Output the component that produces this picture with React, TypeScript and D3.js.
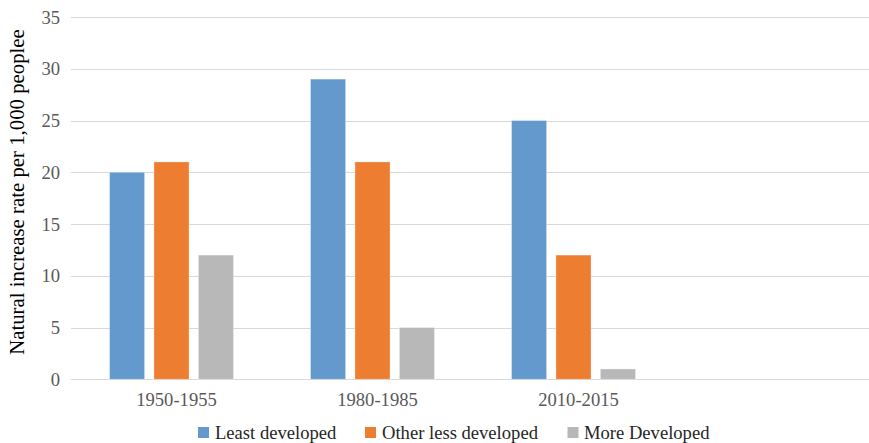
import React from "react";
import * as d3 from "d3";

// Natural increase rate per 1,000 people, by period and development group
const periods = ["1950-1955", "1980-1985", "2010-2015", ""];
const seriesNames = ["Least developed", "Other less developed", "More Developed"];
const leastDeveloped = [20, 29, 25, null];
const otherLessDeveloped = [21, 21, 12, null];
const moreDeveloped = [12, 5, 1, null];
const yTicks = [0, 5, 10, 15, 20, 25, 30, 35];
const colors = ["#6399cd", "#ed7d31", "#b8b8b8"];

const W = 869;
const H = 443;
const plot = { left: 71, right: 875, top: 17, bottom: 379.3 };
const FONT = "'Liberation Serif', 'Times New Roman', serif";

export default function App() {
  const series = [leastDeveloped, otherLessDeveloped, moreDeveloped];

  const x = d3.scaleBand<string>().domain(periods).range([plot.left, plot.right]);
  const inner = d3
    .scaleBand<number>()
    .domain([0, 1, 2])
    .range([38.5, x.bandwidth() - 38.5])
    .paddingInner(0.21);
  const y = d3.scaleLinear().domain([0, 35]).range([plot.bottom, plot.top]);

  const legendItems = [
    { x: 198, textX: 215 },
    { x: 365, textX: 382 },
    { x: 567.5, textX: 584 },
  ];

  return (
    <svg
      width={W}
      height={H}
      style={{ position: "absolute", left: 0, top: 0, background: "#fff" }}
      fontFamily={FONT}
    >
      {/* horizontal gridlines */}
      {yTicks.map((t) => (
        <line
          key={t}
          x1={plot.left}
          x2={W}
          y1={Math.round(y(t)) + 0.5}
          y2={Math.round(y(t)) + 0.5}
          stroke="#d9d9d9"
          strokeWidth={1}
        />
      ))}

      {/* y tick labels */}
      {yTicks.map((t) => (
        <text
          key={t}
          x={60}
          y={y(t)}
          dy="0.35em"
          textAnchor="end"
          fontSize={18.6}
          fill="#595959"
        >
          {t}
        </text>
      ))}

      {/* bars */}
      {series.map((vals, si) =>
        periods.map((p, ci) => {
          const v = vals[ci];
          if (v == null) return null;
          const bx = (x(p) as number) + (inner(si) as number);
          return (
            <rect
              key={`${si}-${ci}`}
              x={bx}
              y={y(v)}
              width={inner.bandwidth()}
              height={y(0) - y(v)}
              fill={colors[si]}
              stroke="rgba(255,255,255,0.35)"
              strokeWidth={1}
            />
          );
        })
      )}

      {/* x category labels */}
      {periods.map((p) => (
        <text
          key={p}
          x={(x(p) as number) + x.bandwidth() / 2 + 5}
          y={406}
          textAnchor="middle"
          fontSize={18.6}
          fill="#595959"
        >
          {p}
        </text>
      ))}

      {/* y axis title */}
      <text
        transform={`translate(24, 192) rotate(-90)`}
        textAnchor="middle"
        fontSize={20.8}
        fill="#000"
      >
        Natural increase rate per 1,000 peoplee
      </text>

      {/* legend */}
      {seriesNames.map((name, i) => (
        <g key={name}>
          <rect x={legendItems[i].x} y={427} width={11} height={11} fill={colors[i]} />
          <text x={legendItems[i].textX} y={438.5} fontSize={18.6} fill="#262626">
            {name}
          </text>
        </g>
      ))}
    </svg>
  );
}
